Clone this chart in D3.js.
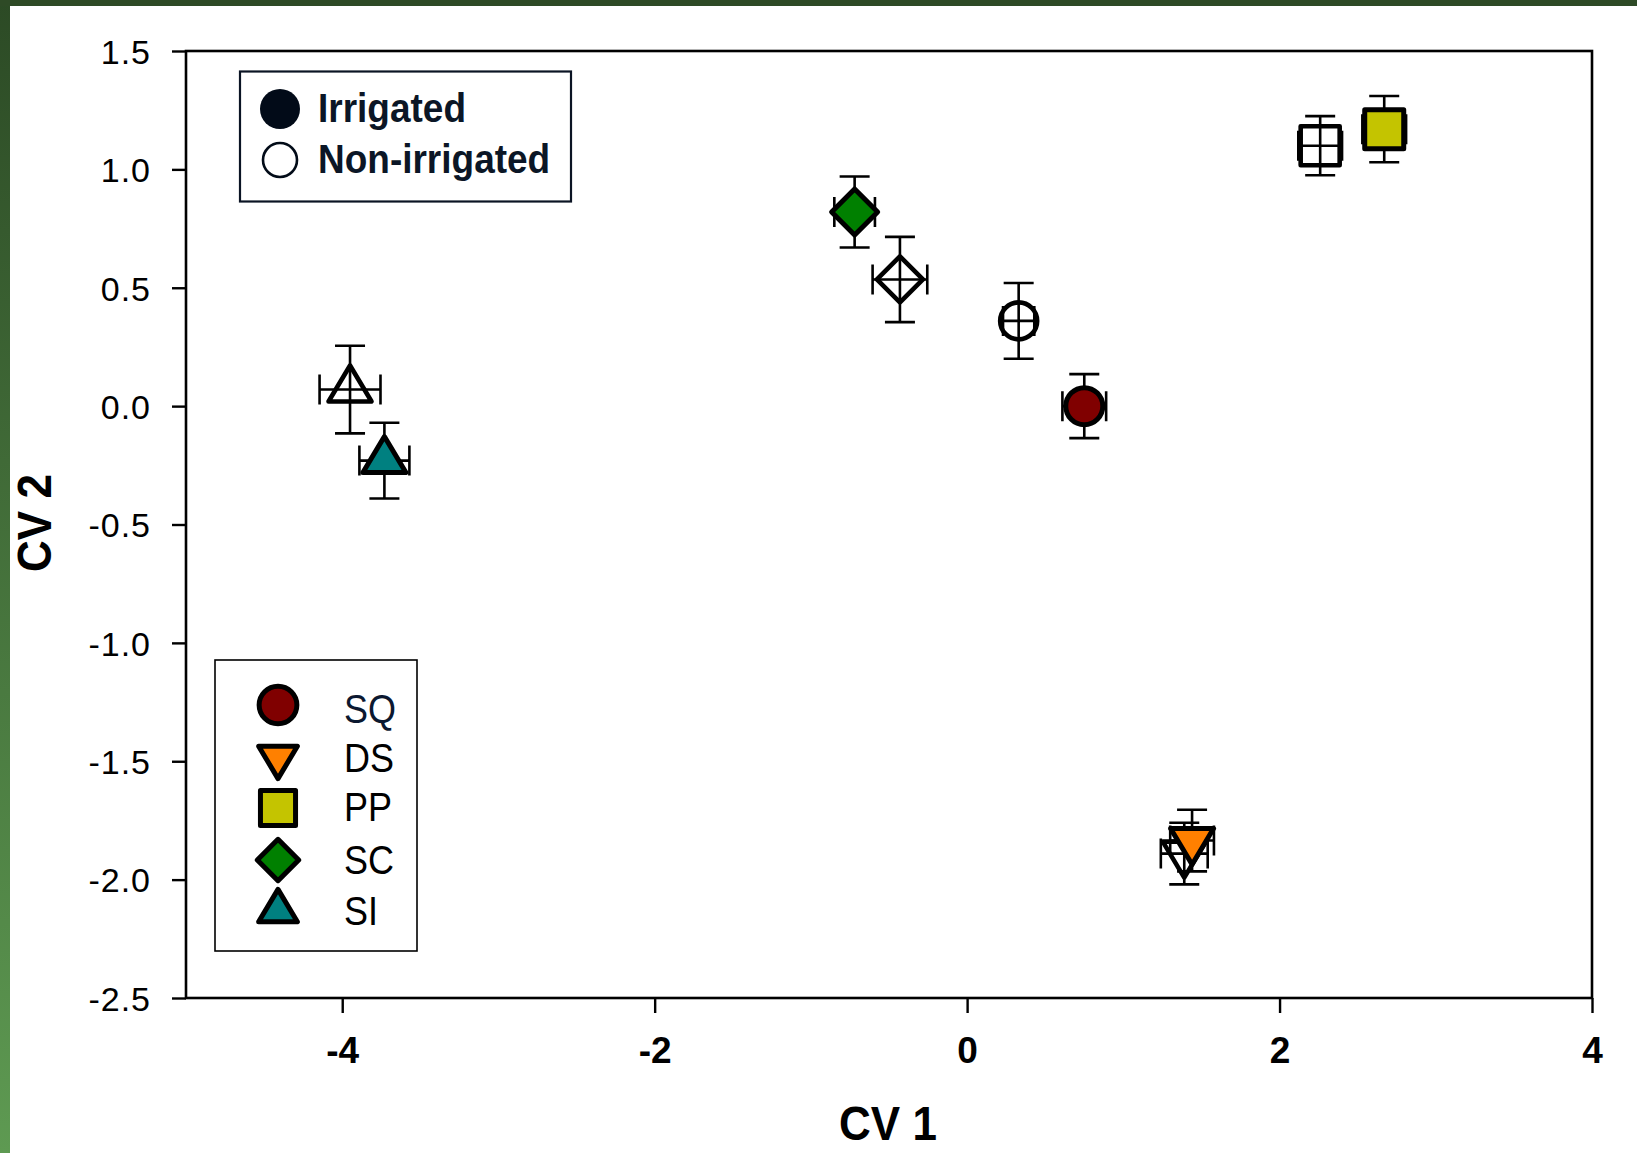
<!DOCTYPE html>
<html><head><meta charset="utf-8">
<script src="https://cdn.jsdelivr.net/npm/d3@7"></script>
<style>body{margin:0;background:#fff;overflow:hidden} svg{display:block}</style>
</head><body>
<svg id="c" width="1637" height="1153"></svg>
<script>
// ---- data ----
const groups = ["SQ","DS","PP","SC","SI"];
const groupColors = ["#800000","#ff8000","#c4c400","#008000","#008080"];
const groupShapes = ["circle","triangleDown","square","diamond","triangleUp"];
const treatments = ["Irrigated","Non-irrigated"];
// Irrigated (filled symbols)
const irrX    = [0.75, 1.44, 2.67, -0.72, -3.73];
const irrY    = [0.00, -1.835, 1.17, 0.82, -0.23];
const irrXErr = [0.14, 0.14, 0.14, 0.13, 0.16];
const irrYErr = [0.135, 0.13, 0.14, 0.15, 0.16];
// Non-irrigated (open symbols)
const nonX    = [0.33, 1.39, 2.26, -0.43, -3.95];
const nonY    = [0.36, -1.89, 1.10, 0.535, 0.07];
const nonXErr = [0.10, 0.15, 0.14, 0.175, 0.195];
const nonYErr = [0.16, 0.13, 0.125, 0.18, 0.185];
const xTicks = [-4,-2,0,2,4];
const yTicks = [1.5,1.0,0.5,0.0,-0.5,-1.0,-1.5,-2.0,-2.5];

// ---- setup ----
const svg = d3.select("#c");
const W = 1637, H = 1153;
const defs = svg.append("defs");
const grad = defs.append("linearGradient").attr("id","lg").attr("x1",0).attr("y1",0).attr("x2",0).attr("y2",1);
grad.append("stop").attr("offset","0%").attr("stop-color","#2c4a25");
grad.append("stop").attr("offset","100%").attr("stop-color","#5e9a52");
svg.append("rect").attr("width",W).attr("height",H).attr("fill","#fff");
svg.append("rect").attr("x",0).attr("y",0).attr("width",10).attr("height",H).attr("fill","url(#lg)");
svg.append("rect").attr("x",0).attr("y",0).attr("width",W).attr("height",6).attr("fill","#2e4a26");

const x = d3.scaleLinear().domain([-5,4]).range([186,1592]);
const y = d3.scaleLinear().domain([-2.5,1.5]).range([998,51]);

function shapePath(type, s){
  // s = scale factor
  switch(type){
    case "circle": { const r=18.5*s; return `M${r},0A${r},${r} 0 1,1 ${-r},0A${r},${r} 0 1,1 ${r},0Z`; }
    case "square": { const h=19.5*s; return `M${-h},${-h}H${h}V${h}H${-h}Z`; }
    case "diamond": { const d=23*s; return `M0,${-d}L${d},0L0,${d}L${-d},0Z`; }
    case "triangleUp": { const h=36*s, w=21.5*s; return `M0,${-2*h/3}L${w},${h/3}L${-w},${h/3}Z`; }
    case "triangleDown": { const h=36*s, w=21.5*s; return `M0,${2*h/3}L${w},${-h/3}L${-w},${-h/3}Z`; }
  }
}

// ---- frame ----
const frame = svg.append("g");
frame.append("rect").attr("x",x(-5)).attr("y",y(1.5)).attr("width",x(4)-x(-5)).attr("height",y(-2.5)-y(1.5))
  .attr("fill","none").attr("stroke","#000").attr("stroke-width",2.6);

// ---- axes ----
const yAxis = svg.append("g").attr("transform",`translate(${x(-5)},0)`)
  .call(d3.axisLeft(y).tickValues(yTicks).tickSize(14).tickSizeOuter(0).tickPadding(21).tickFormat(d=>d.toFixed(1)));
yAxis.select(".domain").remove();
yAxis.selectAll(".tick line").attr("stroke-width",2.4);
yAxis.selectAll(".tick text").attr("font-family","Liberation Sans, Arial, sans-serif").attr("font-size",34)
  .attr("letter-spacing",1).attr("fill","#000").attr("dy","0.36em");

const xAxis = svg.append("g").attr("transform",`translate(0,${y(-2.5)})`)
  .call(d3.axisBottom(x).tickValues(xTicks).tickSize(15).tickSizeOuter(0).tickPadding(24).tickFormat(d=>String(d)));
xAxis.select(".domain").remove();
xAxis.selectAll(".tick line").attr("stroke-width",2.4);
xAxis.selectAll(".tick text").attr("font-family","Liberation Sans, Arial, sans-serif").attr("font-size",37)
  .attr("font-weight","bold").attr("fill","#000");

// axis titles
svg.append("text").attr("transform","translate(888,1140) scale(1,1.1)")
  .attr("text-anchor","middle").attr("font-family","Liberation Sans, Arial, sans-serif")
  .attr("font-size",44).attr("font-weight","bold").text("CV 1");
svg.append("text").attr("transform","translate(51,523) rotate(-90) scale(1,1.1)")
  .attr("text-anchor","middle").attr("font-family","Liberation Sans, Arial, sans-serif")
  .attr("font-size",44).attr("font-weight","bold").text("CV 2");

// ---- data points ----
const open = groups.map((g,i)=>({g, i, x:nonX[i], y:nonY[i], xe:nonXErr[i], ye:nonYErr[i], filled:false}));
const filled = groups.map((g,i)=>({g, i, x:irrX[i], y:irrY[i], xe:irrXErr[i], ye:irrYErr[i], filled:true}));
const cap = 15;
function drawSet(data){
  const gE = svg.append("g").attr("stroke","#000").attr("stroke-width",2.6).attr("fill","none");
  data.forEach(d=>{
    const cx=x(d.x), cy=y(d.y);
    const x0=x(d.x-d.xe), x1=x(d.x+d.xe), y0=y(d.y+d.ye), y1=y(d.y-d.ye);
    gE.append("path").attr("d",
      `M${cx},${y0}V${y1}M${cx-cap},${y0}H${cx+cap}M${cx-cap},${y1}H${cx+cap}`+
      `M${x0},${cy}H${x1}M${x0},${cy-cap}V${cy+cap}M${x1},${cy-cap}V${cy+cap}`);
  });
  svg.append("g").selectAll("path").data(data).join("path")
    .attr("transform",d=>`translate(${x(d.x)},${y(d.y)})`)
    .attr("d",d=>shapePath(groupShapes[d.i],1))
    .attr("fill",d=>d.filled?groupColors[d.i]:"none")
    .attr("stroke","#000").attr("stroke-width",d=>d.filled?5:4.6).attr("stroke-linejoin","round");
}
drawSet(open);
drawSet(filled);

// ---- legend 1: treatments ----
const L1 = svg.append("g");
L1.append("rect").attr("x",240).attr("y",71.5).attr("width",331).attr("height",130)
  .attr("fill","#fff").attr("stroke","#0b1424").attr("stroke-width",2.2);
const l1y = [109, 160];
const l1ty = [122, 173];
treatments.forEach((t,i)=>{
  if(i===0) L1.append("circle").attr("cx",280).attr("cy",l1y[i]).attr("r",20).attr("fill","#020b18");
  else L1.append("circle").attr("cx",280).attr("cy",l1y[i]).attr("r",17).attr("fill","none").attr("stroke","#020b18").attr("stroke-width",2.6);
  L1.append("text").attr("transform",`translate(318,${l1ty[i]}) scale(1,1.12)`)
    .attr("font-family","Liberation Sans, Arial, sans-serif").attr("font-size",37).attr("font-weight","bold")
    .attr("fill","#0b1626").text(t);
});

// ---- legend 2: groups ----
const L2 = svg.append("g");
L2.append("rect").attr("x",215).attr("y",660).attr("width",202).attr("height",291)
  .attr("fill","#fff").attr("stroke","#000").attr("stroke-width",1.6);
const l2sy = [705, 757, 808, 860, 911];
const l2ty = [723, 772, 821, 874, 925];
groups.forEach((g,i)=>{
  L2.append("path").attr("transform",`translate(278,${l2sy[i]})`)
    .attr("d",shapePath(groupShapes[i], i===0?1.02:0.9))
    .attr("fill",groupColors[i]).attr("stroke","#000").attr("stroke-width",5).attr("stroke-linejoin","round");
  L2.append("text").attr("transform",`translate(344,${l2ty[i]}) scale(1,1.15)`)
    .attr("font-family","Liberation Sans, Arial, sans-serif").attr("font-size",36)
    .attr("fill", i===0?"#0b1830":"#000").text(g);
});
</script>
</body></html>
